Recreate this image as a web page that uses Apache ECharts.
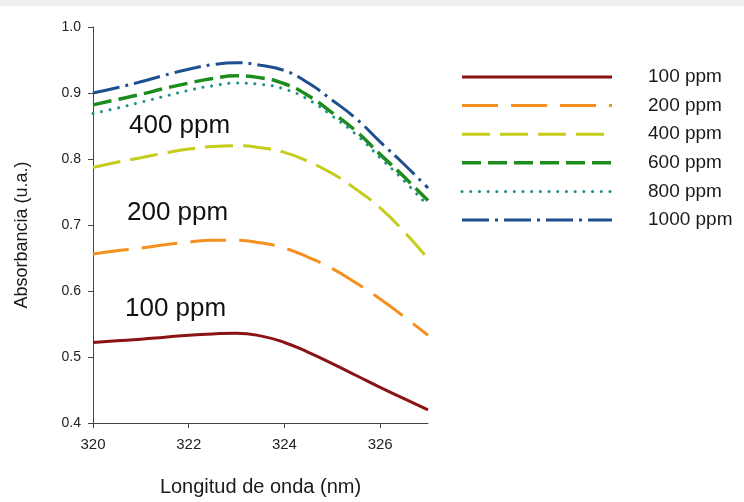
<!DOCTYPE html>
<html>
<head>
<meta charset="utf-8">
<script src="https://cdn.jsdelivr.net/npm/echarts@6/dist/echarts.min.js"></script>
<style>
  html, body { margin: 0; padding: 0; background: #ffffff; }
  #chart { width: 744px; height: 502px; }
</style>
</head>
<body>
<div id="chart"></div>
<script>
// Wavelength grid (nm)
const wavelengths = [320, 320.5, 321, 321.5, 322, 322.5, 323, 323.5, 324, 324.5, 325, 325.5, 326, 326.5, 327];

// Absorbance spectra for each concentration
const abs100  = [0.522, 0.5245, 0.527, 0.530, 0.533, 0.535, 0.536, 0.532, 0.522, 0.507, 0.490, 0.472, 0.454, 0.437, 0.420];
const abs200  = [0.656, 0.661, 0.665, 0.670, 0.674, 0.677, 0.677, 0.673, 0.665, 0.651, 0.634, 0.612, 0.588, 0.561, 0.533];
const abs400  = [0.787, 0.795, 0.802, 0.809, 0.815, 0.819, 0.820, 0.817, 0.810, 0.796, 0.778, 0.754, 0.726, 0.690, 0.649];
const abs600  = [0.882, 0.890, 0.898, 0.907, 0.915, 0.922, 0.926, 0.923, 0.914, 0.896, 0.870, 0.842, 0.807, 0.773, 0.737];
const abs800  = [0.869, 0.877, 0.886, 0.895, 0.904, 0.911, 0.915, 0.913, 0.906, 0.890, 0.865, 0.837, 0.802, 0.767, 0.729];
const abs1000 = [0.900, 0.908, 0.917, 0.927, 0.936, 0.943, 0.946, 0.942, 0.934, 0.915, 0.889, 0.861, 0.826, 0.792, 0.756];

const seriesNames = ['100 ppm', '200 ppm', '400 ppm', '600 ppm', '800 ppm', '1000 ppm'];
const xTicks = [320, 322, 324, 326];
const yTicks = [0.4, 0.5, 0.6, 0.7, 0.8, 0.9, 1.0];

const spectra = [abs100, abs200, abs400, abs600, abs800, abs1000];
const styles = [
  { color: '#8a1414', dash: null,          width: 3,   cap: 'butt' },
  { color: '#f5901e', dash: [36, 13],      width: 3,   cap: 'butt' },
  { color: '#c5cc1c', dash: [28, 10],      width: 3,   cap: 'butt' },
  { color: '#1c8c1c', dash: [19, 7],       width: 3.5, cap: 'butt' },
  { color: '#20908c', dash: [0.1, 8.6],    width: 3,   cap: 'round' },
  { color: '#1d4f91', dash: [27, 6, 3, 6], width: 3,   cap: 'butt' }
];

const FONT = 'Liberation Sans, Arial, sans-serif';
const chart = echarts.init(document.getElementById('chart'), null, { renderer: 'canvas' });

const series = spectra.map((vals, i) => ({
  name: seriesNames[i],
  type: 'line',
  smooth: 0.5,
  symbol: 'none',
  color: styles[i].color,
  lineStyle: {
    color: styles[i].color,
    width: styles[i].width,
    type: styles[i].dash || 'solid',
    cap: styles[i].cap
  },
  data: wavelengths.map((w, k) => [w, vals[k]]),
  z: 2 + i
}));

// Key: sample line and concentration label for each series
const keyElements = [];
seriesNames.forEach((name, i) => {
  const yc = 77 + i * 28.6;
  keyElements.push({
    type: 'line',
    shape: { x1: 462, y1: yc, x2: 612, y2: yc },
    style: {
      stroke: styles[i].color,
      lineWidth: styles[i].width,
      lineDash: styles[i].dash,
      lineCap: styles[i].cap
    },
    silent: true
  });
  keyElements.push({
    type: 'text',
    x: 648, y: yc,
    style: { text: name, font: '19px ' + FONT, fill: '#1a1a1a', align: 'left', verticalAlign: 'middle' },
    silent: true
  });
});

chart.setOption({
  backgroundColor: '#ffffff',
  animation: false,
  grid: { left: 93, right: 316, top: 27, bottom: 79, containLabel: false },
  xAxis: {
    type: 'value',
    min: 320,
    max: 327,
    interval: 2,
    name: 'Longitud de onda (nm)',
    nameLocation: 'middle',
    nameGap: 54,
    nameTextStyle: { fontFamily: FONT, fontSize: 20, color: '#1a1a1a' },
    axisLine: { show: true, lineStyle: { color: '#444444', width: 1 } },
    axisTick: { show: true, inside: false, length: 5, customValues: xTicks, lineStyle: { color: '#444444' } },
    axisLabel: { customValues: xTicks, margin: 14, fontFamily: FONT, fontSize: 15, color: '#222222' },
    splitLine: { show: false }
  },
  yAxis: {
    type: 'value',
    min: 0.4,
    max: 1.0,
    interval: 0.1,
    axisLine: { show: true, lineStyle: { color: '#444444', width: 1 } },
    axisTick: { show: true, inside: false, length: 5, customValues: yTicks, lineStyle: { color: '#444444' } },
    axisLabel: {
      customValues: yTicks,
      margin: 12,
      fontFamily: FONT,
      fontSize: 14,
      color: '#222222',
      formatter: v => v.toFixed(1)
    },
    splitLine: { show: false }
  },
  graphic: [
    { type: 'rect', left: 0, top: 0, shape: { width: 744, height: 6 }, style: { fill: '#efefef' }, silent: true },
    {
      type: 'text', x: 22, y: 235, rotation: Math.PI / 2,
      style: { text: 'Absorbancia (u.a.)', font: '18px ' + FONT, fill: '#1a1a1a', align: 'center', verticalAlign: 'middle' }
    },
    { type: 'text', left: 129, top: 113, style: { text: '400 ppm', font: '26px ' + FONT, fill: '#111111' } },
    { type: 'text', left: 127, top: 200, style: { text: '200 ppm', font: '26px ' + FONT, fill: '#111111' } },
    { type: 'text', left: 125, top: 296, style: { text: '100 ppm', font: '26px ' + FONT, fill: '#111111' } }
  ].concat(keyElements),
  series: series
});
</script>
</body>
</html>
